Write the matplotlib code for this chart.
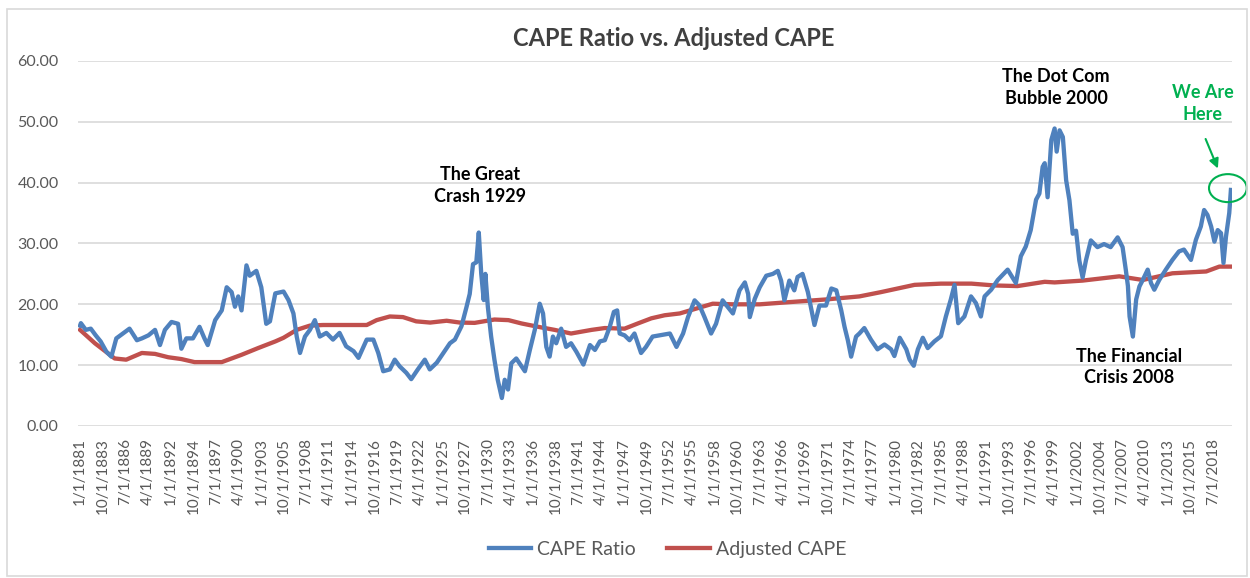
import pandas as pd
import matplotlib
matplotlib.use("Agg")
import matplotlib.pyplot as plt
from matplotlib.patches import Ellipse, Rectangle

# CAPE ratio (decimal year, value)
cape_years = [
    1881.0, 1881.1, 1881.7, 1882.3, 1882.9, 1883.5, 1884.2, 1884.8, 1885.4, 1886.2,
    1887.0, 1887.9, 1888.5, 1889.3, 1890.1, 1890.7, 1891.3, 1892.1, 1892.9, 1893.3,
    1893.9, 1894.7, 1895.5, 1896.1, 1896.5, 1897.4, 1898.2, 1898.8, 1899.4, 1899.8,
    1900.2, 1900.6, 1901.2, 1901.6, 1902.4, 1903.0, 1903.6, 1904.05, 1904.7, 1905.7,
    1906.3, 1906.9, 1907.3, 1907.7, 1908.3, 1908.9, 1909.5, 1910.1, 1910.9, 1911.7,
    1912.5, 1913.3, 1914.2, 1914.8, 1915.8, 1916.6, 1917.2, 1917.8, 1918.6, 1919.2,
    1919.8, 1920.6, 1921.2, 1922.0, 1922.85, 1923.45, 1924.3, 1925.1, 1925.9, 1926.5,
    1927.3, 1927.9, 1928.3, 1928.7, 1929.1, 1929.4, 1929.7, 1930.0, 1930.2, 1930.5,
    1930.9, 1931.3, 1931.7, 1932.2, 1932.55, 1932.95, 1933.35, 1933.95, 1934.6, 1935.0,
    1935.6, 1936.2, 1936.8, 1937.2, 1937.6, 1938.0, 1938.4, 1938.8, 1939.4, 1940.0,
    1940.6, 1941.25, 1942.1, 1942.9, 1943.5, 1944.1, 1944.7, 1945.3, 1945.8, 1946.2,
    1946.5, 1947.1, 1947.7, 1948.3, 1949.1, 1949.7, 1950.5, 1951.35, 1952.6, 1953.4,
    1954.2, 1954.8, 1955.6, 1956.2, 1956.8, 1957.6, 1958.2, 1959.0, 1959.6, 1960.25,
    1961.05, 1961.7, 1962.1, 1962.3, 1962.9, 1963.5, 1964.3, 1965.1, 1965.7, 1966.1,
    1966.5, 1967.1, 1967.7, 1968.1, 1968.7, 1969.35, 1970.15, 1970.75, 1971.55, 1972.2,
    1972.8, 1973.4, 1973.8, 1974.2, 1974.6, 1975.2, 1975.6, 1976.2, 1977.0, 1977.8,
    1978.65, 1979.45, 1979.85, 1980.5, 1981.3, 1981.7, 1982.2, 1982.7, 1983.3, 1983.9,
    1984.7, 1985.5, 1986.1, 1986.7, 1987.15, 1987.6, 1988.35, 1989.15, 1989.75, 1990.35,
    1990.8, 1991.6, 1992.4, 1993.6, 1994.6, 1995.2, 1995.8, 1996.4, 1997.05, 1997.45,
    1997.85, 1998.1, 1998.45, 1998.9, 1999.3, 1999.55, 1999.9, 2000.3, 2000.7, 2001.1,
    2001.5, 2001.9, 2002.3, 2002.7, 2003.1, 2003.7, 2004.5, 2005.3, 2006.1, 2006.95,
    2007.55, 2007.95, 2008.2, 2008.4, 2008.8, 2009.2, 2009.6, 2010.0, 2010.6, 2011.0,
    2011.4, 2012.0, 2012.8, 2013.6, 2014.4, 2015.0, 2015.85, 2016.45, 2017.05, 2017.45,
    2017.85, 2018.3, 2018.7, 2019.1, 2019.5, 2019.8, 2020.1, 2020.5, 2020.7,
]
cape_values = [
    16.5, 16.9, 15.8, 16.0, 14.9, 13.9, 12.2, 11.4, 14.4, 15.2,
    16.0, 14.1, 14.4, 14.9, 15.8, 13.3, 15.8, 17.1, 16.8, 12.7,
    14.4, 14.4, 16.3, 14.4, 13.3, 17.4, 19.0, 22.8, 22.0, 19.6,
    21.3, 19.0, 26.4, 24.7, 25.5, 22.8, 16.8, 17.2, 21.8, 22.1,
    20.7, 18.5, 14.7, 12.0, 14.7, 15.8, 17.4, 14.7, 15.3, 14.2,
    15.3, 13.1, 12.3, 11.2, 14.2, 14.2, 12.0, 9.0, 9.3, 10.9,
    9.8, 8.75, 7.7, 9.3, 10.9, 9.3, 10.4, 12.0, 13.6, 14.2,
    16.4, 19.5, 21.7, 26.6, 26.9, 31.8, 25.0, 20.7, 25.0, 19.6,
    14.7, 10.9, 7.6, 4.6, 7.6, 6.0, 10.3, 11.1, 9.8, 9.0,
    12.5, 15.8, 20.1, 18.5, 13.0, 11.4, 14.7, 13.6, 16.0, 13.0,
    13.6, 12.2, 10.1, 13.3, 12.5, 13.9, 14.1, 16.3, 18.75, 19.0,
    15.2, 14.9, 14.1, 15.2, 12.0, 13.0, 14.7, 14.9, 15.2, 13.0,
    15.2, 17.9, 20.65, 19.8, 17.9, 15.2, 16.8, 20.65, 19.6, 18.5,
    22.3, 23.6, 21.7, 17.9, 20.9, 22.8, 24.7, 25.0, 25.5, 23.9,
    20.65, 23.9, 22.3, 24.5, 25.0, 22.0, 16.6, 19.8, 19.8, 22.6,
    22.3, 19.0, 16.3, 14.1, 11.4, 14.7, 15.2, 16.1, 14.2, 12.6,
    13.4, 12.6, 11.5, 14.5, 12.6, 10.9, 9.9, 12.6, 14.5, 12.8,
    13.9, 14.75, 18.0, 20.8, 23.2, 16.9, 18.0, 21.3, 20.2, 18.0,
    21.3, 22.4, 24.0, 25.7, 23.5, 27.9, 29.5, 32.2, 37.2, 38.2,
    42.6, 43.2, 37.6, 47.0, 48.9, 45.1, 48.6, 47.5, 40.4, 37.1,
    31.6, 32.1, 27.2, 24.4, 27.2, 30.5, 29.4, 29.9, 29.4, 31.0,
    29.4, 25.6, 23.0, 18.0, 14.7, 20.8, 22.95, 24.0, 25.7, 23.5,
    22.4, 24.0, 25.7, 27.3, 28.7, 29.0, 27.3, 30.6, 32.8, 35.5,
    34.7, 32.8, 30.3, 32.2, 31.7, 26.8, 31.1, 35.0, 38.8,
]

# Adjusted CAPE (smooth line)
adj_years = [
    1881.0, 1882.8, 1885.2, 1886.6, 1888.5, 1890.1, 1891.7, 1893.3, 1894.9, 1898.2,
    1900.6, 1902.6, 1904.7, 1905.7, 1907.3, 1908.9, 1910.5, 1915.8, 1917.0, 1918.6,
    1920.2, 1921.8, 1923.5, 1925.5, 1927.1, 1928.9, 1931.3, 1933.0, 1934.6, 1937.0,
    1938.6, 1940.6, 1943.1, 1944.7, 1947.1, 1948.7, 1950.35, 1951.96, 1953.8, 1955.8,
    1957.8, 1960.25, 1963.5, 1967.5, 1971.55, 1975.6, 1978.2, 1982.3, 1985.5, 1989.2,
    1992.0, 1994.8, 1998.1, 1999.3, 2002.7, 2007.15, 2010.0, 2013.6, 2017.7, 2019.3,
    2020.7,
]
adj_values = [
    15.8, 13.6, 11.1, 10.9, 12.0, 11.85, 11.3, 11.0, 10.5, 10.5,
    11.7, 12.8, 13.9, 14.5, 15.8, 16.5, 16.6, 16.6, 17.4, 18.0,
    17.9, 17.2, 17.0, 17.3, 17.0, 16.95, 17.5, 17.4, 16.85, 16.2,
    15.8, 15.2, 15.8, 16.1, 16.0, 16.85, 17.7, 18.2, 18.5, 19.3,
    20.1, 20.0, 20.0, 20.4, 20.8, 21.3, 22.0, 23.2, 23.4, 23.4,
    23.1, 23.0, 23.7, 23.6, 23.9, 24.6, 24.0, 25.1, 25.4, 26.2,
    26.2,
]

# category labels every 33 months, as on the Excel axis
tick_dates = pd.date_range("1881-01-01", periods=51, freq="33MS")
tick_labels = [f"{d.month}/1/{d.year}" for d in tick_dates]

BLUE = "#4F81BD"
RED = "#C0504D"
GREEN = "#00B050"
GRAY = "#595959"

plt.rcParams["font.family"] = ["Lato", "DejaVu Sans"]


def to_month(years):
    return [(y - 1881) * 12 for y in years]


fig = plt.figure(figsize=(12.5, 5.78), dpi=100)
ax = fig.add_axes([0.0624, 0.263, 0.9232, 0.6315])

ax.plot(to_month(cape_years), cape_values, color=BLUE, lw=3.1, label="CAPE Ratio",
        solid_joinstyle="round", zorder=3)
ax.plot(to_month(adj_years), adj_values, color=RED, lw=3.1, label="Adjusted CAPE",
        solid_joinstyle="round", zorder=2)

ax.set_ylim(0, 60)
ax.set_yticks(range(0, 61, 10))
ax.set_yticklabels([f"{v:.2f}" for v in range(0, 61, 10)], color=GRAY, fontsize=11.5)
ax.set_xlim(-3, 1678)
ax.set_xticks([i * 33 for i in range(len(tick_labels))])
ax.set_xticklabels(tick_labels, rotation=90, color=GRAY, fontsize=11)
ax.tick_params(axis="both", length=0)
ax.tick_params(axis="y", pad=14)
ax.tick_params(axis="x", pad=9)
ax.grid(axis="y", color="#D9D9D9", lw=1.2)
ax.set_axisbelow(True)
for s in ax.spines.values():
    s.set_visible(False)

fig.text(0.539, 0.934, "CAPE Ratio vs. Adjusted CAPE", ha="center", va="center",
         fontsize=17, fontweight="bold", color="#404040")

note = dict(ha="center", va="center", fontsize=13, fontweight="bold", linespacing=1.35)
ax.text(582, 39.5, "The Great\nCrash 1929", color="black", **note)
ax.text(1422, 55.6, "The Dot Com\nBubble 2000", color="black", **note)
ax.text(1528, 9.7, "The Financial\nCrisis 2008", color="black", **note)
ax.text(1635, 53.0, "We Are\nHere", color=GREEN, **note)
ax.annotate("", xy=(1659, 41.9), xytext=(1638, 47.6),
            arrowprops=dict(arrowstyle="-|>", color=GREEN, lw=1.5, mutation_scale=14))
ax.add_patch(Ellipse((1672, 39.1), 55, 4.6, fill=False, edgecolor=GREEN, lw=1.5,
                     clip_on=False, zorder=4))

fig.legend(loc="center", bbox_to_anchor=(0.534, 0.05), ncol=2, frameon=False,
           fontsize=14, handlelength=2.2, handletextpad=0.3, columnspacing=1.6,
           labelcolor=GRAY)

fig.patches.append(Rectangle((0.0056, 0.004), 0.992, 0.98, transform=fig.transFigure,
                             fill=False, edgecolor="#D9D9D9", lw=1.2))

fig.savefig("out.png", dpi=100)
